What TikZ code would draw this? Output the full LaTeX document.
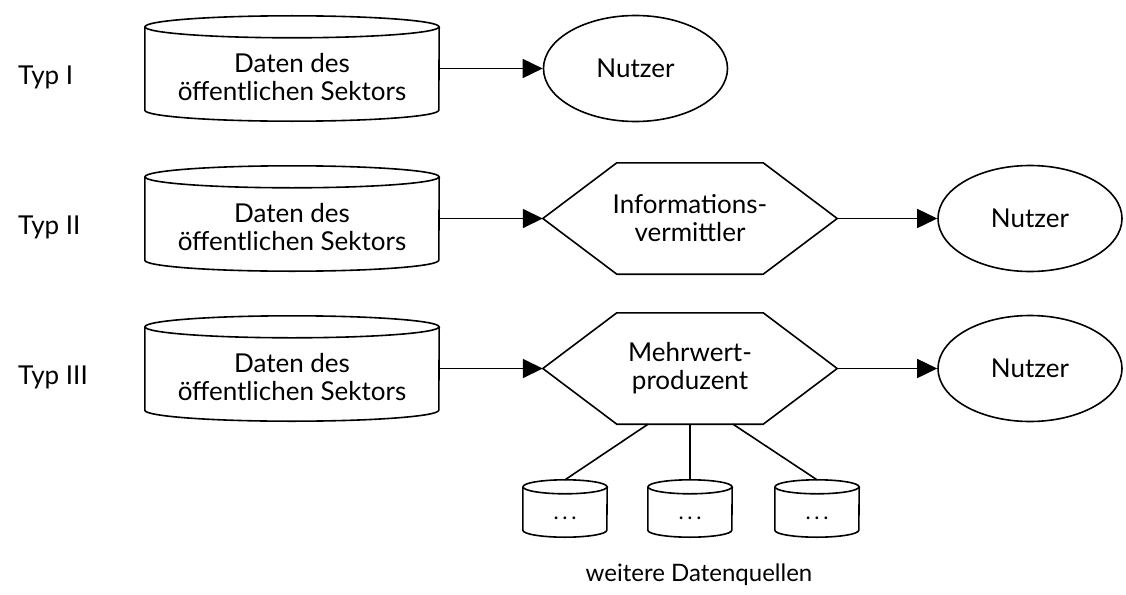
\documentclass[tikz,border=0pt]{standalone}
\usepackage{fontspec}
\setmainfont{Lato}
\usetikzlibrary{arrows.meta,shapes.geometric}

\tikzset{
  linie/.style={line width=1.6pt},
  schrift/.style={font=\fontsize{26}{28}\selectfont,align=center},
  typ/.style={font=\fontsize{26}{28}\selectfont,anchor=base west,inner sep=0pt},
  datenbank/.style={minimum width=294pt,minimum height=83pt,inner sep=0pt},
  quelle/.style={font=\fontsize{22}{24}\selectfont,minimum width=84pt,minimum height=43pt,
    inner sep=0pt,text height=22pt,text depth=0pt},
  stufe/.style={schrift,minimum width=294pt,minimum height=111pt,inner sep=0pt},
  nutzer/.style={schrift,draw,linie,ellipse,minimum width=184pt,minimum height=106pt,inner sep=0pt},
  pfeil/.style={linie,-{Triangle[length=20pt,width=19pt]}},
}

% Zylinder um einen Knoten: Knoten, x-Radius, y-Radius
\newcommand{\zylinder}[3]{%
  \draw[linie] (#1.north west) -- (#1.south west)
    arc[start angle=180,end angle=360,x radius=#2,y radius=#3] -- (#1.north east);
  \draw[linie] (#1.north) ellipse[x radius=#2,y radius=#3];
}
% Sechseck um einen Knoten: Knoten, Einzug
\newcommand{\sechseck}[2]{%
  \draw[linie] (#1.west) -- ([xshift=#2]#1.north west) -- ([xshift=-#2]#1.north east)
    -- (#1.east) -- ([xshift=-#2]#1.south east) -- ([xshift=#2]#1.south west) -- cycle;
}

\begin{document}
\begin{tikzpicture}[x=1pt,y=-1pt]
 \useasboundingbox (0,0) rectangle (1126,594);

 % Typ I
 \node[typ] (typ1) at (18,84.5) {Typ I};
 \node[datenbank,label={[schrift,yshift=-9pt]center:{Daten des\\öffentlichen Sektors}}] (daten1) at (292,68.5) {};
 \node[nutzer] (nutzer1) at (635.5,68.5) {Nutzer};
 \zylinder{daten1}{147pt}{11pt}
 \draw[pfeil] (daten1.east) -- (nutzer1.west);

 % Typ II
 \node[typ] (typ2) at (18,234.5) {Typ II};
 \node[datenbank,label={[schrift,yshift=-9pt]center:{Daten des\\öffentlichen Sektors}}] (daten2) at (292,218.5) {};
 \node[stufe] (vermittler) at (690,218.5) {Informations-\\vermittler};
 \node[nutzer] (nutzer2) at (1030,218.5) {Nutzer};
 \zylinder{daten2}{147pt}{11pt}
 \sechseck{vermittler}{74pt}
 \draw[pfeil] (daten2.east) -- (vermittler.west);
 \draw[pfeil] (vermittler.east) -- (nutzer2.west);

 % Typ III
 \node[typ] (typ3) at (18,384.5) {Typ III};
 \node[datenbank,label={[schrift,yshift=-9pt]center:{Daten des\\öffentlichen Sektors}}] (daten3) at (292,368.5) {};
 \node[stufe] (produzent) at (690,368.5) {Mehrwert-\\produzent};
 \node[nutzer] (nutzer3) at (1030,368.5) {Nutzer};
 \zylinder{daten3}{147pt}{11pt}
 \sechseck{produzent}{74pt}
 \draw[pfeil] (daten3.east) -- (produzent.west);
 \draw[pfeil] (produzent.east) -- (nutzer3.west);

 % weitere Datenquellen
 \node[quelle] (quelle1) at (565,508.5) {.\,.\,.};
 \node[quelle] (quelle2) at (690,508.5) {.\,.\,.};
 \node[quelle] (quelle3) at (817,508.5) {.\,.\,.};
 \zylinder{quelle1}{42pt}{7pt}
 \zylinder{quelle2}{42pt}{7pt}
 \zylinder{quelle3}{42pt}{7pt}
 \draw[linie] ([xshift=-42pt]produzent.south) -- ([yshift=7pt]quelle1.north);
 \draw[linie] (produzent.south) -- ([yshift=7pt]quelle2.north);
 \draw[linie] ([xshift=43pt]produzent.south) -- ([yshift=7pt]quelle3.north);
 \node[font=\fontsize{24}{26}\selectfont,anchor=base] (weitere) at (699,581) {weitere Datenquellen};
\end{tikzpicture}
\end{document}
